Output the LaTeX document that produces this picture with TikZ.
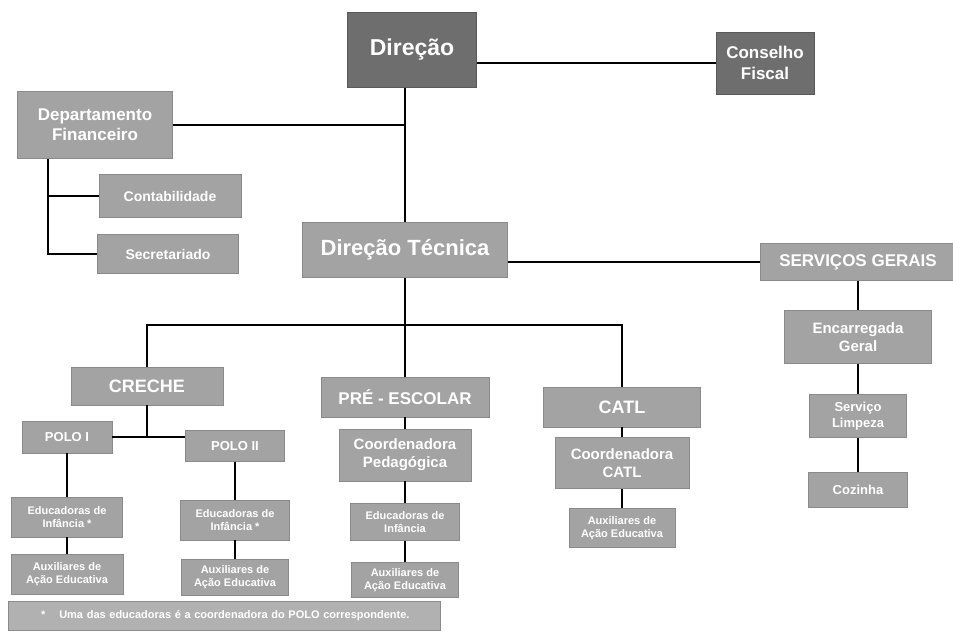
\documentclass[tikz,border=0pt]{standalone}
\usepackage{fontspec}
\setmainfont{Liberation Sans}
\definecolor{darkgrey}{HTML}{6E6E6E}
\definecolor{midgrey}{HTML}{A3A3A3}
\definecolor{edgegrey}{HTML}{8A8A8A}
\newcommand{\fs}[1]{\fontsize{#1}{\dimexpr #1pt*6/5\relax}\selectfont}

\begin{document}
\begin{tikzpicture}
[x=1pt,y=-1pt,-,line width=1.4pt,%
  unit/.style={shape=rectangle,fill=midgrey,draw=edgegrey,line width=0.6pt,
    text=white,font=\bfseries,align=center,inner sep=1pt},%
  chief/.style={unit,fill=darkgrey,draw=darkgrey!80!black},%
  wh/.style 2 args={minimum width=#1,minimum height=#2}]
\useasboundingbox (0,0) rectangle (953,637);
\node[chief,wh={129}{75},font=\bfseries\fs{23}] (dir) at (412,50) {Direção};
\node[chief,wh={98}{62},font=\bfseries\fs{17}] (cons) at (765,63) {Conselho\\Fiscal};
%%
\node[unit,wh={155}{67},font=\bfseries\fs{17}] (dfin) at (95,125) {Departamento\\Financeiro};
\node[unit,wh={142}{43},font=\bfseries\fs{14}] (cont) at (170,196) {Contabilidade};
\node[unit,wh={141}{39},font=\bfseries\fs{14}] (secr) at (168,254) {Secretariado};
%%
\node[unit,wh={205}{55},font=\bfseries\fs{22}] (dtec) at (405,250) {Direção Técnica};
\node[unit,wh={196}{37},font=\bfseries\fs{17}] (serv) at (858,262) {SERVIÇOS GERAIS};
\node[unit,wh={147}{53},font=\bfseries\fs{15}] (enc) at (858,337) {Encarregada\\Geral};
\node[unit,wh={97}{43},font=\bfseries\fs{13}] (limp) at (858,416) {Serviço\\Limpeza};
\node[unit,wh={99}{35},font=\bfseries\fs{13}] (coz) at (858,490) {Cozinha};
%%
\node[unit,wh={152}{38},font=\bfseries\fs{18}] (creche) at (147,386) {CRECHE};
\node[unit,wh={90}{32},font=\bfseries\fs{13}] (polo1) at (67,437) {POLO I};
\node[unit,wh={99}{31},font=\bfseries\fs{13}] (polo2) at (235,446) {POLO II};
\node[unit,wh={111}{40},font=\bfseries\fs{11}] (edu1) at (67,517) {Educadoras de\\Infância *};
\node[unit,wh={112}{40},font=\bfseries\fs{11}] (aux1) at (67,574) {Auxiliares de\\Ação Educativa};
\node[unit,wh={109}{40},font=\bfseries\fs{11}] (edu2) at (235,520) {Educadoras de\\Infância *};
\node[unit,wh={107}{36},font=\bfseries\fs{11}] (aux2) at (235,577) {Auxiliares de\\Ação Educativa};
%%
\node[unit,wh={168}{40},font=\bfseries\fs{17}] (pre) at (405,397) {PRÉ - ESCOLAR};
\node[unit,wh={132}{52},font=\bfseries\fs{15}] (cped) at (405,455) {Coordenadora\\Pedagógica};
\node[unit,wh={109}{37},font=\bfseries\fs{11}] (edup) at (405,522) {Educadoras de\\Infância};
\node[unit,wh={107}{35},font=\bfseries\fs{11}] (auxp) at (405,580) {Auxiliares de\\Ação Educativa};
%%
\node[unit,wh={157}{40},font=\bfseries\fs{18}] (catl) at (622,407) {CATL};
\node[unit,wh={134}{51},font=\bfseries\fs{15}] (ccatl) at (622,463) {Coordenadora\\CATL};
\node[unit,wh={106}{39},font=\bfseries\fs{11}] (auxc) at (622,528) {Auxiliares de\\Ação Educativa};
%%
\node[unit,wh={432}{29},font=\bfseries\fs{11},text width=426pt,align=left,fill=midgrey!85!white] (note) at (224,616)
  {\hspace*{30pt}*\hspace{14pt}Uma das educadoras é a coordenadora do POLO correspondente.};
%%
\coordinate (hb) at (405,325);
\coordinate (finbase) at ([xshift=-47pt]dfin.south);
\draw (cons.west) -- (cons.west -| dir.east);
\draw (dtec.north |- dir.south) -- (dtec.north);
\draw (dfin.east) -- (dfin.east -| dtec.north);
\draw (finbase) |- (secr.west);
\draw (finbase |- cont.west) -- (cont.west);
\draw (dtec.east |- serv.west) -- (serv.west);
\draw (dtec.south) -- (hb);
\draw (creche.north) |- (hb) -| (catl.north);
\draw (polo1.east) -- (polo1.east -| polo2.west);
\draw (creche.south) -- (creche.south |- polo1.east);
\path
\foreach \startNode/\endNode in {hb/pre, pre/cped, cped/edup, edup/auxp,
  catl/ccatl, ccatl/auxc, polo1/edu1, edu1/aux1, polo2/edu2, edu2/aux2,
  serv/enc, enc/limp, limp/coz}
{
  (\startNode) edge (\endNode)
};
\end{tikzpicture}
\end{document}
